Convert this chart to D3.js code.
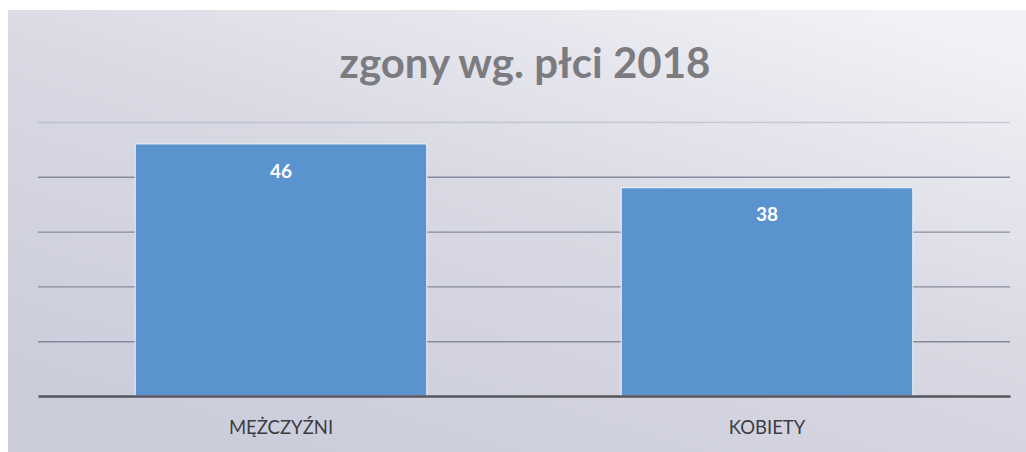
<!DOCTYPE html>
<html>
<head>
<meta charset="utf-8">
<script src="https://cdn.jsdelivr.net/npm/d3@7"></script>
<style>
    html, body { margin: 0; padding: 0; background: #ffffff; }
    #chart { width: 1026px; height: 452px; }
    text { font-family: Lato, "Open Sans", sans-serif; }
</style>
</head>
<body>
<div id="chart"></div>
<script>
//Datos
const categorias = ['MĘŻCZYŹNI', 'KOBIETY'];
const valores = [46, 38];
const ticks = [0, 10, 20, 30, 40, 50];
const titulo = 'zgony wg. płci 2018';

//Colores
const COLOR_BAR = '#5b93cf',
COLOR_GRID = '#85859a',
COLOR_TITLE = '#7b7b80';

let data = categorias.map(function(c, i) { return {cat: c, val: valores[i]}; });

let margin = {top: 122, right: 16, bottom: 56, left: 38},
    width = 1026 - margin.left - margin.right,
    height = 452 - margin.top - margin.bottom;

let root = d3.select('#chart')
    .append('svg')
        .attr('width', 1026)
        .attr('height', 452);

//Fondo con degradado
let defs = root.append('defs');
let grad = defs.append('linearGradient')
    .attr('id', 'bg')
    .attr('x1', '0.15').attr('y1', '1')
    .attr('x2', '0.85').attr('y2', '0');
grad.append('stop').attr('offset', '0').attr('stop-color', '#cbccda');
grad.append('stop').attr('offset', '0.55').attr('stop-color', '#d8d9e3');
grad.append('stop').attr('offset', '1').attr('stop-color', '#f1f1f6');

root.append('rect')
    .attr('x', 8).attr('y', 10)
    .attr('width', 1018).attr('height', 442)
    .attr('fill', 'url(#bg)');

let svg = root.append('g')
    .attr('transform', 'translate(' + margin.left + ',' + margin.top + ')');

let y = d3.scaleLinear()
    .domain([0, d3.max(ticks)])
    .range([height, 0]);

let x = d3.scaleBand()
    .domain(categorias)
    .range([0, width])
    .paddingInner(0.4)
    .paddingOuter(0.2);

//Líneas de la cuadrícula
let yAxis = function(g) {
    g.call(d3.axisLeft(y).tickValues(ticks.slice(1)).tickSize(-width).tickFormat(''));
    g.call(function(g) { g.select('.domain').remove(); });
    g.call(function(g) {
        g.selectAll('.tick line')
            .attr('stroke', COLOR_GRID)
            .attr('stroke-width', 1.4)
            .attr('stroke-opacity', function(d) { return d == 50 ? 0.3 : 0.95; });
    });
}

svg.append('g').call(yAxis);

//Barras
svg.selectAll('bars')
    .data(data)
    .enter()
    .append('rect')
    .attr('x', function(d) { return x(d.cat); })
    .attr('y', function(d) { return y(d.val); })
    .attr('width', x.bandwidth())
    .attr('height', function(d) { return y(0) - y(d.val); })
    .attr('fill', COLOR_BAR)
    .attr('stroke', '#f4f6fb')
    .attr('stroke-width', 1);

//Etiquetas de valor
svg.selectAll('valores')
    .data(data)
    .enter()
    .append('text')
    .attr('x', function(d) { return x(d.cat) + x.bandwidth() / 2; })
    .attr('y', function(d) { return y(d.val) + 27; })
    .attr('dy', '.35em')
    .attr('text-anchor', 'middle')
    .attr('fill', '#ffffff')
    .style('font-size', '19px')
    .style('font-weight', 'bold')
    .text(function(d) { return d.val; });

//Eje X
let xAxis = function(g) {
    g.call(d3.axisBottom(x).tickSize(0).tickPadding(25));
    g.call(function(g) {
        g.select('.domain').attr('stroke', '#55555c').attr('stroke-width', 2.5);
    });
    g.call(function(g) {
        g.selectAll('.tick text')
            .attr('fill', '#3c3c44')
            .style('font-size', '18.5px')
            .style('font-family', 'Lato, "Open Sans", sans-serif');
    });
}

svg.append('g')
    .attr('transform', 'translate(0,' + height + ')')
    .call(xAxis);

//Título
root.append('text')
    .attr('x', 525)
    .attr('y', 78)
    .attr('text-anchor', 'middle')
    .attr('fill', COLOR_TITLE)
    .style('font-size', '42px')
    .style('font-weight', 'bold')
    .text(titulo);
</script>
</body>
</html>
